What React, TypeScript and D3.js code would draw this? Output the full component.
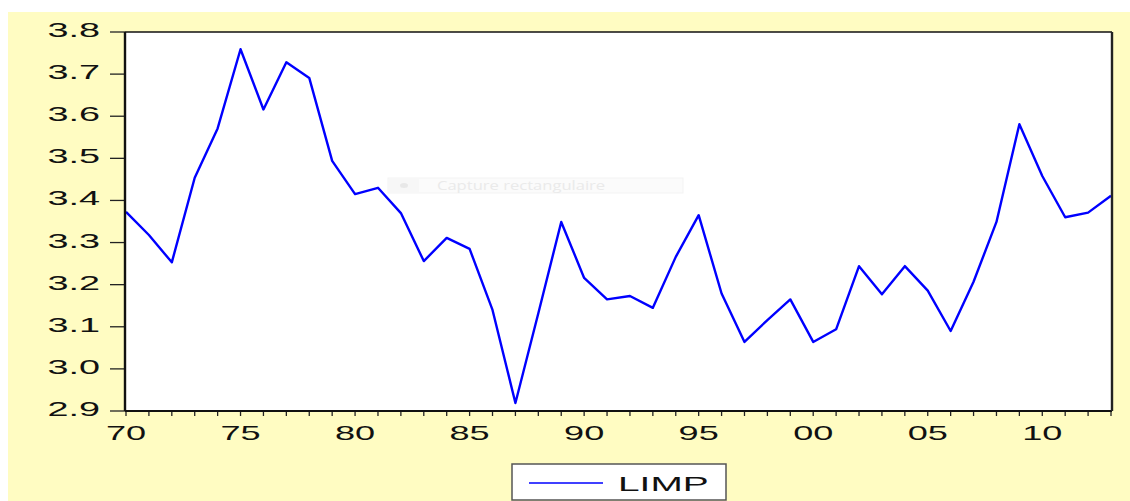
import React from "react";
import * as d3 from "d3";

// Annual series, 1970–2013
const years: number[] = [
  1970, 1971, 1972, 1973, 1974, 1975, 1976, 1977, 1978, 1979,
  1980, 1981, 1982, 1983, 1984, 1985, 1986, 1987, 1988, 1989,
  1990, 1991, 1992, 1993, 1994, 1995, 1996, 1997, 1998, 1999,
  2000, 2001, 2002, 2003, 2004, 2005, 2006, 2007, 2008, 2009,
  2010, 2011, 2012, 2013,
];
const limp: number[] = [
  3.373, 3.318, 3.253, 3.454, 3.571, 3.759, 3.616, 3.728, 3.691, 3.494,
  3.415, 3.43, 3.37, 3.256, 3.311, 3.285, 3.14, 2.919, 3.132, 3.349,
  3.216, 3.165, 3.173, 3.145, 3.266, 3.365, 3.179, 3.064, 3.116, 3.165,
  3.064, 3.094, 3.244, 3.177, 3.244, 3.186, 3.09, 3.207, 3.349, 3.581,
  3.458, 3.36, 3.371, 3.411,
];
const yTicks: number[] = [2.9, 3.0, 3.1, 3.2, 3.3, 3.4, 3.5, 3.6, 3.7, 3.8];
const xTickYears: number[] = [1970, 1975, 1980, 1985, 1990, 1995, 2000, 2005, 2010];
const xTickLabels: string[] = ["70", "75", "80", "85", "90", "95", "00", "05", "10"];
const seriesName = "LIMP";

const W = 1130;
const H = 501;
const plot = { left: 125, right: 1112, top: 32, bottom: 411 };
const FONT = "'Liberation Sans', Arial, sans-serif";
const STRETCH = 1.8;

export default function App() {
  const x = d3.scaleLinear().domain([1970, 2013]).range([126, 1111]);
  const y = d3.scaleLinear().domain([2.9, 3.8]).range([plot.bottom, plot.top]);
  const line = d3
    .line<number>()
    .x((_, i) => x(years[i]))
    .y((d) => y(d));

  return (
    <svg
      width={W}
      height={H}
      style={{ position: "absolute", left: 0, top: 0, display: "block" }}
    >
      <rect x={0} y={0} width={W} height={H} fill="#ffffff" />
      <rect x={8} y={12} width={W - 8} height={H - 12} fill="#fffcc2" />

      {/* plot area */}
      <rect
        x={plot.left}
        y={plot.top}
        width={plot.right - plot.left}
        height={plot.bottom - plot.top}
        fill="#ffffff"
      />

      {/* faint overlay box */}
      <g opacity={0.9}>
        <rect x={388} y={178} width={295} height={15} fill="#fbfbfb" stroke="#f3f3f3" />
        <rect x={389} y={179} width={30} height={13} fill="#f7f7f7" />
        <ellipse cx={404} cy={185.5} rx={4} ry={2.5} fill="#e6e6e6" />
        <text
          transform="translate(437,189.5) scale(1.38,1)"
          fontFamily="'Open Sans', sans-serif"
          fontSize={12}
          fill="#e8e8e8"
        >
          Capture rectangulaire
        </text>
      </g>

      {/* y ticks and labels */}
      {yTicks.map((t) => (
        <g key={t}>
          <line x1={110} x2={plot.left} y1={y(t)} y2={y(t)} stroke="#222" strokeWidth={1.3} />
          <text
            transform={`translate(100,${y(t) + 5}) scale(${STRETCH},1)`}
            textAnchor="end"
            fontFamily={FONT}
            fontSize={21}
            fill="#111"
          >
            {t.toFixed(1)}
          </text>
        </g>
      ))}

      {/* x ticks (every year) */}
      {years.map((yr) => (
        <line
          key={yr}
          x1={x(yr)}
          x2={x(yr)}
          y1={plot.bottom}
          y2={plot.bottom + 5}
          stroke="#222"
          strokeWidth={1.3}
        />
      ))}
      {xTickYears.map((yr, i) => (
        <text
          key={yr}
          transform={`translate(${x(yr)},440) scale(1.72,1)`}
          textAnchor="middle"
          fontFamily={FONT}
          fontSize={21}
          fill="#111"
        >
          {xTickLabels[i]}
        </text>
      ))}

      {/* series */}
      <path d={line(limp) ?? ""} fill="none" stroke="#0000ff" strokeWidth={2.4} strokeLinejoin="round" />

      {/* frame */}
      <line x1={plot.left} x2={plot.right} y1={plot.top} y2={plot.top} stroke="#111" strokeWidth={1.5} />
      <line x1={plot.left} x2={plot.right} y1={plot.bottom} y2={plot.bottom} stroke="#111" strokeWidth={2} />
      <line x1={plot.left} x2={plot.left} y1={plot.top} y2={plot.bottom} stroke="#111" strokeWidth={2.4} />
      <line x1={plot.right} x2={plot.right} y1={plot.top} y2={plot.bottom} stroke="#222" strokeWidth={2.4} />

      {/* legend */}
      <rect x={512} y={464} width={214} height={36} fill="#ffffff" stroke="#555" strokeWidth={1.5} />
      <line x1={529} x2={603} y1={483} y2={483} stroke="#0000ff" strokeWidth={1.6} />
      <text
        transform={`translate(618,490.5) scale(1.85,1)`}
        fontFamily={FONT}
        fontSize={21}
        fill="#111"
      >
        {seriesName}
      </text>
    </svg>
  );
}
